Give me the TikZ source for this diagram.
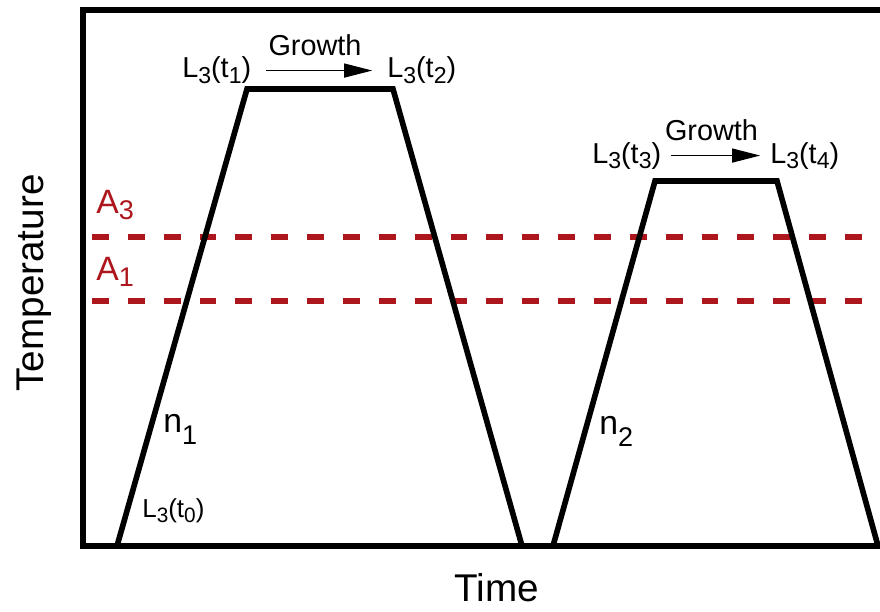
\documentclass[tikz,border=0pt]{standalone}
\usepackage{fontspec}
\usepackage{graphicx}
\setmainfont{Liberation Sans}
\usetikzlibrary{arrows.meta, positioning}
\definecolor{critico}{RGB}{172,22,28}
\newcommand{\subidx}[2][0.2em]{\raisebox{-#1}{\scalebox{0.8}{#2}}}

\begin{document}
\begin{tikzpicture}[x=0.025cm, y=-0.025cm,
    curva/.style={line width=4pt, line join=miter},
    lbl/.style={inner sep=0, font=\fontsize{20.5}{24}\selectfont},
    crit/.style={inner sep=0, text=critico, font=\fontsize{24}{28}\selectfont},
    eixo/.style={inner sep=0, font=\fontsize{27.5}{32}\selectfont},
    growth/.style={-{Triangle[length=20pt, width=10pt]}, line width=0.9pt}]
    \useasboundingbox (0,0) rectangle (880,611);
    % frame (open on the right)
    \draw[curva] (880,10) -- (83,10) -- (83,546) -- (880,546);
    % critical temperatures
    \foreach \yy/\nome/\base/\idx in {237/a3/213/3, 301/a1/280/1} {
        \draw[critico, line width=4pt, dash pattern=on 12pt off 13.5pt] (92,\yy) -- (880,\yy);
        \node[crit, anchor=base west] (\nome) at (96,\base) {A\subidx{\idx}};
    }
    % heat treatment cycles
    \draw[curva] (117,546) -- (247,89) -- (393,89) -- (522,546);
    \draw[curva] (553,546) -- (655,181) -- (777,181) -- (878,546);
    % grain size labels
    \node[lbl, anchor=base west] (t1) at (182,78) {L\subidx{3}(t\subidx{1})};
    \node[lbl, anchor=base west] (t2) at (387,78) {L\subidx{3}(t\subidx{2})};
    \node[lbl, anchor=base west] (t3) at (592,163) {L\subidx{3}(t\subidx{3})};
    \node[lbl, anchor=base west] (t4) at (770,163) {L\subidx{3}(t\subidx{4})};
    \node[lbl, anchor=base west, font=\fontsize{18.5}{22}\selectfont] (t0) at (142,517) {L\subidx{3}(t\subidx{0})};
    \draw[growth, shorten <=10.5pt, shorten >=10.5pt] (t1) -- (t2)
        node[lbl, midway, above=10pt, xshift=-3pt] (g1) {Growth};
    \draw[growth, shorten <=7pt, shorten >=7pt] (t3) -- (t4)
        node[lbl, midway, above=10pt, xshift=-3pt] (g2) {Growth};
    % nucleation
    \node[inner sep=0, anchor=base west, font=\fontsize{24}{28}\selectfont] (n1) at (163,432) {n\subidx[0.38em]{1}};
    \node[inner sep=0, anchor=base west, font=\fontsize{24}{28}\selectfont] (n2) at (599,434) {n\subidx[0.38em]{2}};
    % axes
    \node[eixo, rotate=90, anchor=base] (temp) at (43,283) {Temperature};
    \node[eixo, anchor=base] (time) at (497,601) {Time};
\end{tikzpicture}
\end{document}
